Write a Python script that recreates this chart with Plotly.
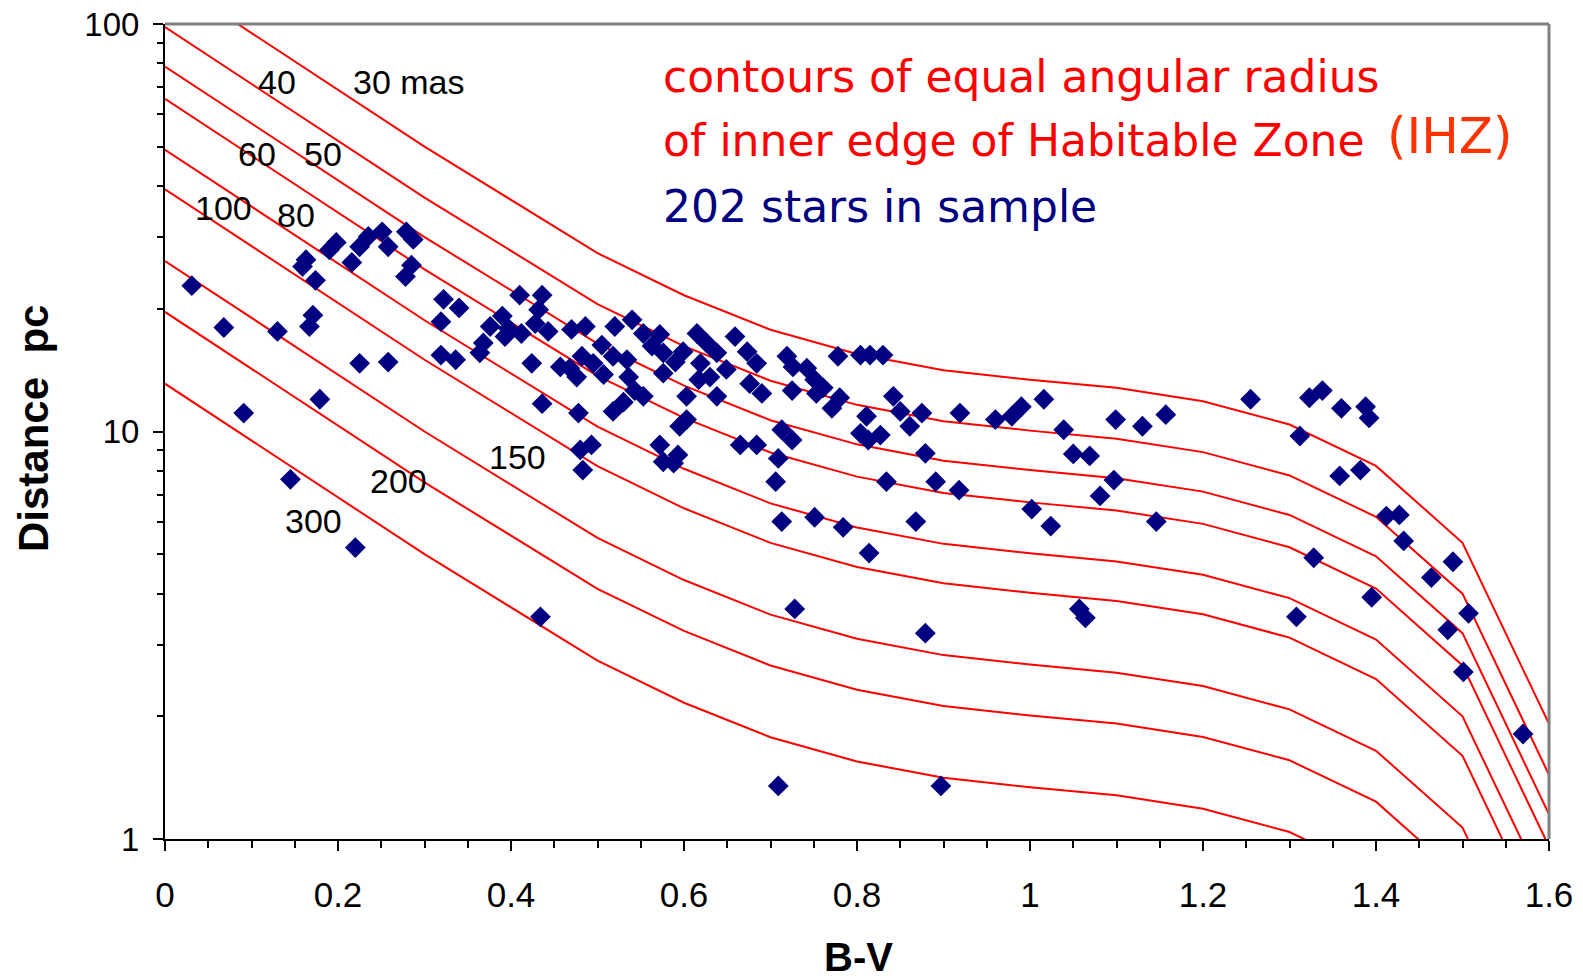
import math
import plotly.graph_objects as go

# Inner habitable-zone edge radius (AU) at B-V colour breakpoints
bv_grid = [0.0, 0.3, 0.5, 0.6, 0.7, 0.8, 0.9, 1.0, 1.1, 1.2, 1.3, 1.4, 1.5, 1.6]
r_ihz_au = [3.93, 1.50, 0.822, 0.648, 0.533, 0.465, 0.424, 0.402, 0.384,
            0.356, 0.312, 0.247, 0.160, 0.0575]

# Angular radii (milliarcsec) of the contour lines
angles_mas = [30, 40, 50, 60, 80, 100, 150, 200, 300]

# Contour labels and where they sit (B-V, distance pc)
label_text = ["30 mas", "40", "50", "60", "80", "100", "150", "200", "300"]
label_bv = [0.282, 0.129, 0.183, 0.106, 0.152, 0.0673, 0.4075, 0.2705, 0.1714]
label_dist = [72.2, 72.2, 47.9, 47.9, 34.0, 35.3, 8.64, 7.57, 6.04]

# Stars of the sample: B-V colour and distance (pc)
star_bv = [
    0.031, 0.068, 0.130, 0.091, 0.145, 0.179, 0.225, 0.258, 0.163, 0.159,
    0.174, 0.171, 0.167, 0.190, 0.198, 0.216, 0.225, 0.235, 0.251, 0.258,
    0.279, 0.287, 0.285, 0.278, 0.322, 0.340, 0.319, 0.319, 0.336, 0.364,
    0.368, 0.376, 0.390, 0.397, 0.393, 0.410, 0.436, 0.432, 0.412, 0.428,
    0.443, 0.424, 0.457, 0.436, 0.470, 0.476, 0.478, 0.480, 0.483, 0.220,
    0.434,
    0.486, 0.520, 0.540, 0.553, 0.572, 0.563, 0.576, 0.615, 0.626, 0.659,
    0.599, 0.590, 0.638, 0.619, 0.673, 0.684, 0.649, 0.630, 0.617, 0.638,
    0.603, 0.603, 0.595, 0.576, 0.676, 0.690, 0.719, 0.726, 0.742, 0.751,
    0.761, 0.753, 0.725, 0.778, 0.804, 0.815, 0.830, 0.780, 0.771, 0.811,
    0.842, 0.850, 0.861, 0.875, 0.804, 0.813, 0.827, 0.919, 0.960, 0.879,
    0.834, 0.891, 0.918, 0.713, 0.725, 0.709, 0.706, 0.665, 0.684, 0.713,
    0.751, 0.784, 0.868, 0.468, 0.482, 0.495, 0.505, 0.507, 0.518, 0.534,
    0.536, 0.543, 0.553, 0.530, 0.518, 0.493, 0.572, 0.593, 0.576, 0.588,
    0.814, 0.709, 0.897, 0.728, 0.879,
    0.979, 0.990, 1.016, 1.039, 1.050, 1.069, 1.097, 1.081, 1.002, 1.024,
    1.146, 1.099, 1.130, 1.157, 1.255, 1.323, 1.338, 1.360, 1.388, 1.392,
    1.312, 1.358, 1.382, 1.412, 1.427, 1.328, 1.432, 1.489, 1.464, 1.395,
    1.507, 1.483, 1.308, 1.501, 1.570, 1.057, 1.064,
]
star_dist = [
    22.8, 18.0, 17.6, 11.1, 7.63, 12.0, 14.7, 14.8, 26.4, 25.4,
    23.5, 19.3, 18.1, 27.9, 29.1, 26.0, 28.4, 30.1, 30.9, 28.4,
    30.9, 29.6, 25.6, 24.0, 21.1, 20.1, 18.6, 15.4, 15.0, 15.6,
    16.5, 18.1, 19.2, 17.9, 17.1, 21.6, 21.6, 19.9, 17.4, 18.4,
    17.6, 14.7, 14.4, 11.7, 17.8, 13.6, 11.1, 9.01, 8.04, 5.19,
    3.51,
    18.1, 18.1, 18.8, 17.4, 17.3, 16.2, 15.6, 17.4, 16.5, 17.1,
    15.7, 14.8, 15.6, 14.7, 15.7, 14.7, 14.2, 13.6, 13.4, 12.2,
    12.2, 10.7, 10.3, 13.9, 13.1, 12.4, 15.3, 14.4, 14.3, 13.4,
    12.8, 12.4, 12.6, 15.3, 15.4, 15.4, 15.4, 12.1, 11.4, 10.9,
    12.2, 11.2, 10.3, 11.1, 9.90, 9.53, 9.80, 11.1, 10.7, 8.84,
    7.53, 7.53, 7.18, 10.1, 9.53, 8.59, 7.53, 9.27, 9.27, 6.01,
    6.16, 5.82, 6.01, 14.3, 15.3, 14.7, 16.3, 13.8, 15.3, 15.0,
    13.6, 12.6, 12.2, 11.8, 11.2, 9.27, 9.27, 8.76, 8.43, 8.36,
    5.03, 1.35, 1.35, 3.67, 3.20,
    10.9, 11.5, 12.0, 10.1, 8.81, 8.71, 7.60, 6.95, 6.45, 5.86,
    6.01, 10.7, 10.3, 11.0, 12.0, 12.1, 12.6, 11.4, 11.5, 10.8,
    9.75, 7.78, 8.04, 6.20, 6.24, 4.90, 5.39, 4.79, 4.38, 3.92,
    3.58, 3.26, 3.51, 2.57, 1.81, 3.67, 3.49,
]

fig = go.Figure()

# Contours: distance (pc) at which the IHZ radius subtends the given angle
for ang in angles_mas:
    fig.add_trace(go.Scatter(
        x=bv_grid,
        y=[1000.0 * r / ang for r in r_ihz_au],
        mode="lines",
        line=dict(color="#FF0000", width=2),
        hoverinfo="skip",
        showlegend=False,
    ))

fig.add_trace(go.Scatter(
    x=star_bv, y=star_dist, mode="markers",
    marker=dict(symbol="diamond", size=16, color="#000080", line=dict(width=0)),
    showlegend=False,
))

annotations = []
for txt, bv, dist in zip(label_text, label_bv, label_dist):
    annotations.append(dict(
        x=bv, y=math.log10(dist), xref="x", yref="y", text=txt,
        showarrow=False, xanchor="center", yanchor="middle",
        font=dict(family="Liberation Sans", size=34, color="black"),
    ))


def px_x(p):
    return (p - 165) / 1384.0


def px_y(p):
    return (839 - p) / 815.0


info_font = "DejaVu Sans"
annotations += [
    dict(x=px_x(661), y=px_y(77), xref="paper", yref="paper",
         text="contours of equal angular radius", showarrow=False,
         xanchor="left", yanchor="middle",
         font=dict(family=info_font, size=44, color="#FF0000")),
    dict(x=px_x(661), y=px_y(141), xref="paper", yref="paper",
         text="of inner edge of Habitable Zone", showarrow=False,
         xanchor="left", yanchor="middle",
         font=dict(family=info_font, size=44, color="#FF0000")),
    dict(x=px_x(1385), y=px_y(136), xref="paper", yref="paper",
         text="(IHZ)", showarrow=False,
         xanchor="left", yanchor="middle",
         font=dict(family=info_font, size=50, color="#FF3300")),
    dict(x=px_x(661), y=px_y(206), xref="paper", yref="paper",
         text="202 stars in sample", showarrow=False,
         xanchor="left", yanchor="middle",
         font=dict(family=info_font, size=44, color="#000080")),
    dict(x=px_x(859), y=px_y(957), xref="paper", yref="paper",
         text="<b>B-V</b>", showarrow=False,
         xanchor="center", yanchor="middle",
         font=dict(family="Liberation Sans", size=40, color="black")),
    dict(x=px_x(33), y=px_y(429), xref="paper", yref="paper",
         text="<b>Distance\u00a0\u00a0pc</b>", showarrow=False, textangle=-90,
         xanchor="center", yanchor="middle",
         font=dict(family="Liberation Sans", size=42, color="black")),
]

fig.update_layout(
    width=1583, height=979,
    margin=dict(l=165, r=34, t=24, b=140),
    paper_bgcolor="white", plot_bgcolor="white",
    annotations=annotations,
    shapes=[
        dict(type="line", xref="paper", yref="paper", x0=0, x1=1, y0=1, y1=1,
             line=dict(color="#808080", width=3)),
        dict(type="line", xref="paper", yref="paper", x0=1, x1=1, y0=0, y1=1,
             line=dict(color="#808080", width=3)),
    ],
    xaxis=dict(
        range=[0, 1.6], tick0=0, dtick=0.2, showgrid=False, zeroline=False,
        automargin=False,
        showline=True, linecolor="black", linewidth=2,
        ticks="outside", ticklen=10, tickwidth=2, tickcolor="black",
        ticklabelstandoff=14,
        tickfont=dict(family="Liberation Sans", size=35, color="black"),
        minor=dict(dtick=0.05, tick0=0, ticks="outside", ticklen=7,
                   tickwidth=2, tickcolor="black", showgrid=False),
    ),
    yaxis=dict(
        type="log", range=[0, 2], tickmode="array",
        tickvals=[1, 10, 100], ticktext=["1", "10", "100"],
        showgrid=False, zeroline=False, automargin=False,
        showline=True, linecolor="black", linewidth=2,
        ticks="outside", ticklen=10, tickwidth=2, tickcolor="black",
        ticklabelstandoff=7,
        tickfont=dict(family="Liberation Sans", size=33, color="black"),
        minor=dict(tickmode="array",
                   tickvals=[2, 3, 4, 5, 6, 7, 8, 9, 20, 30, 40, 50, 60, 70, 80, 90],
                   ticks="outside", ticklen=6, tickwidth=2, tickcolor="black",
                   showgrid=False),
    ),
)

fig.write_html("out.html")
